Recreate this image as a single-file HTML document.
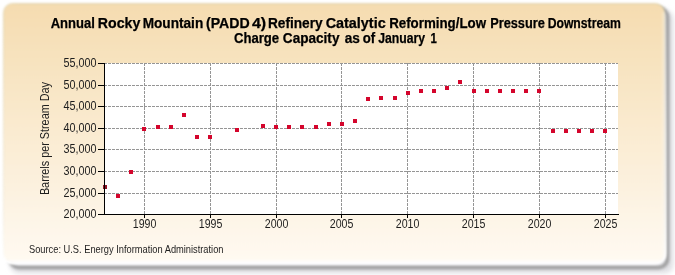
<!DOCTYPE html>
<html><head><meta charset="utf-8"><style>
html,body{margin:0;padding:0;background:#fff;width:675px;height:275px;overflow:hidden}
svg{display:block;will-change:transform}
.t{font-family:"Liberation Sans",sans-serif;font-size:12.3px;fill:#1e1e1e}
.ti{font-family:"Liberation Sans",sans-serif;font-size:14px;font-weight:bold;fill:#000;stroke:#000;stroke-width:0.25px}
.s{font-family:"Liberation Sans",sans-serif;font-size:10.3px;fill:#1e1e1e}
</style></head><body>
<svg width="675" height="275" viewBox="0 0 675 275">
<defs>
<linearGradient id="bg" x1="0" y1="0" x2="0" y2="1">
<stop offset="0" stop-color="#f5dcb0"/>
<stop offset="1" stop-color="#fffaf2"/>
</linearGradient>
<linearGradient id="bd" x1="0" y1="0" x2="0" y2="1">
<stop offset="0" stop-color="#c8c090" stop-opacity="0.5"/>
<stop offset="0.6" stop-color="#d0c8a8" stop-opacity="0.3"/>
<stop offset="1" stop-color="#ffffff" stop-opacity="0.8"/>
</linearGradient>
<filter id="sh" x="-5%" y="-5%" width="110%" height="115%"><feGaussianBlur stdDeviation="1.8"/></filter>
<linearGradient id="glow" x1="0" y1="0" x2="0" y2="1">
<stop offset="0" stop-color="#fff" stop-opacity="0"/>
<stop offset="0.5" stop-color="#fff" stop-opacity="0.6"/>
<stop offset="1" stop-color="#fff" stop-opacity="1"/>
</linearGradient>
<filter id="gl" x="-2%" y="-2%" width="104%" height="104%"><feGaussianBlur stdDeviation="1.2"/></filter>
<filter id="sh2" x="-5%" y="-5%" width="110%" height="115%"><feGaussianBlur stdDeviation="2.5"/></filter>
<filter id="bl" x="-2%" y="-2%" width="104%" height="104%"><feGaussianBlur stdDeviation="1.0"/></filter>
</defs>
<rect x="10" y="10" width="663.5" height="263.5" rx="9" fill="#e0e0e4" filter="url(#sh2)"/>
<rect x="10" y="8" width="657.5" height="259.5" rx="9" fill="none" stroke="#999999" stroke-width="3.5" filter="url(#sh)"/>
<rect x="3.5" y="3.5" width="661" height="259" rx="9" fill="none" stroke="url(#glow)" stroke-width="4" filter="url(#gl)"/>
<g filter="url(#bl)">
<rect x="3.5" y="3.5" width="661" height="259" rx="9" fill="url(#bg)" stroke="url(#bd)" stroke-width="1"/>
<rect x="8" y="260" width="652" height="2.5" fill="#fff" opacity="0.6"/>
<rect x="662.5" y="12" width="2" height="246" fill="#fff" opacity="0.36"/>
</g>
<text x="50.70" y="27.8" class="ti" textLength="44.12" lengthAdjust="spacingAndGlyphs">Annual</text>
<text x="97.79" y="27.8" class="ti" textLength="42.54" lengthAdjust="spacingAndGlyphs">Rocky</text>
<text x="142.63" y="27.8" class="ti" textLength="60.59" lengthAdjust="spacingAndGlyphs">Mountain</text>
<text x="205.99" y="27.8" class="ti" textLength="43.71" lengthAdjust="spacingAndGlyphs">(PADD</text>
<text x="251.90" y="27.8" class="ti" textLength="14.22" lengthAdjust="spacingAndGlyphs">4)</text>
<text x="267.92" y="27.8" class="ti" textLength="54.71" lengthAdjust="spacingAndGlyphs">Refinery</text>
<text x="325.67" y="27.8" class="ti" textLength="60.00" lengthAdjust="spacingAndGlyphs">Catalytic</text>
<text x="389.15" y="27.8" class="ti" textLength="96.95" lengthAdjust="spacingAndGlyphs">Reforming/Low</text>
<text x="490.19" y="27.8" class="ti" textLength="54.65" lengthAdjust="spacingAndGlyphs">Pressure</text>
<text x="547.63" y="27.8" class="ti" textLength="73.17" lengthAdjust="spacingAndGlyphs">Downstream</text>
<text x="233.96" y="42.8" class="ti" textLength="45.16" lengthAdjust="spacingAndGlyphs">Charge</text>
<text x="282.83" y="42.8" class="ti" textLength="56.62" lengthAdjust="spacingAndGlyphs">Capacity</text>
<text x="344.80" y="42.8" class="ti" textLength="15.16" lengthAdjust="spacingAndGlyphs">as</text>
<text x="362.70" y="42.8" class="ti" textLength="12.41" lengthAdjust="spacingAndGlyphs">of</text>
<text x="378.20" y="42.8" class="ti" textLength="46.94" lengthAdjust="spacingAndGlyphs">January</text>
<text x="430.39" y="42.8" class="ti" textLength="6.35" lengthAdjust="spacingAndGlyphs">1</text>
<text transform="translate(48.8,138.6) rotate(-90)" text-anchor="middle" class="t" font-size="11.8" textLength="113" lengthAdjust="spacingAndGlyphs">Barrels per Stream Day</text>
<text x="29" y="253" class="s" textLength="194.5" lengthAdjust="spacingAndGlyphs">Source: U.S. Energy Information Administration</text>
<rect x="104" y="63" width="514" height="151" fill="#fff"/>
<line x1="104" y1="193.5" x2="618" y2="193.5" stroke="#959595" stroke-dasharray="3,1"/>
<line x1="104" y1="171.5" x2="618" y2="171.5" stroke="#959595" stroke-dasharray="3,1"/>
<line x1="104" y1="149.5" x2="618" y2="149.5" stroke="#959595" stroke-dasharray="3,1"/>
<line x1="104" y1="128.5" x2="618" y2="128.5" stroke="#959595" stroke-dasharray="3,1"/>
<line x1="104" y1="106.5" x2="618" y2="106.5" stroke="#959595" stroke-dasharray="3,1"/>
<line x1="104" y1="85.5" x2="618" y2="85.5" stroke="#959595" stroke-dasharray="3,1"/>
<line x1="104" y1="63.5" x2="618" y2="63.5" stroke="#959595" stroke-dasharray="3,1"/>
<line x1="144.5" y1="63" x2="144.5" y2="214" stroke="#959595" stroke-dasharray="3,1"/>
<line x1="210.5" y1="63" x2="210.5" y2="214" stroke="#959595" stroke-dasharray="3,1"/>
<line x1="276.5" y1="63" x2="276.5" y2="214" stroke="#959595" stroke-dasharray="3,1"/>
<line x1="341.5" y1="63" x2="341.5" y2="214" stroke="#959595" stroke-dasharray="3,1"/>
<line x1="407.5" y1="63" x2="407.5" y2="214" stroke="#959595" stroke-dasharray="3,1"/>
<line x1="473.5" y1="63" x2="473.5" y2="214" stroke="#959595" stroke-dasharray="3,1"/>
<line x1="539.5" y1="63" x2="539.5" y2="214" stroke="#959595" stroke-dasharray="3,1"/>
<line x1="605.5" y1="63" x2="605.5" y2="214" stroke="#959595" stroke-dasharray="3,1"/>
<line x1="98" y1="214.5" x2="104" y2="214.5" stroke="#000"/>
<text x="96.6" y="218.1" text-anchor="end" class="t" textLength="33" lengthAdjust="spacingAndGlyphs">20,000</text>
<line x1="98" y1="193.5" x2="104" y2="193.5" stroke="#000"/>
<text x="96.6" y="197.1" text-anchor="end" class="t" textLength="33" lengthAdjust="spacingAndGlyphs">25,000</text>
<line x1="98" y1="171.5" x2="104" y2="171.5" stroke="#000"/>
<text x="96.6" y="175.1" text-anchor="end" class="t" textLength="33" lengthAdjust="spacingAndGlyphs">30,000</text>
<line x1="98" y1="149.5" x2="104" y2="149.5" stroke="#000"/>
<text x="96.6" y="153.1" text-anchor="end" class="t" textLength="33" lengthAdjust="spacingAndGlyphs">35,000</text>
<line x1="98" y1="128.5" x2="104" y2="128.5" stroke="#000"/>
<text x="96.6" y="132.1" text-anchor="end" class="t" textLength="33" lengthAdjust="spacingAndGlyphs">40,000</text>
<line x1="98" y1="106.5" x2="104" y2="106.5" stroke="#000"/>
<text x="96.6" y="110.1" text-anchor="end" class="t" textLength="33" lengthAdjust="spacingAndGlyphs">45,000</text>
<line x1="98" y1="85.5" x2="104" y2="85.5" stroke="#000"/>
<text x="96.6" y="89.1" text-anchor="end" class="t" textLength="33" lengthAdjust="spacingAndGlyphs">50,000</text>
<line x1="98" y1="63.5" x2="104" y2="63.5" stroke="#000"/>
<text x="96.6" y="67.1" text-anchor="end" class="t" textLength="33" lengthAdjust="spacingAndGlyphs">55,000</text>
<line x1="144.5" y1="214" x2="144.5" y2="218" stroke="#000"/>
<text x="144.55" y="227.8" text-anchor="middle" class="t" textLength="23.6" lengthAdjust="spacingAndGlyphs">1990</text>
<line x1="210.5" y1="214" x2="210.5" y2="218" stroke="#000"/>
<text x="210.55" y="227.8" text-anchor="middle" class="t" textLength="23.6" lengthAdjust="spacingAndGlyphs">1995</text>
<line x1="276.5" y1="214" x2="276.5" y2="218" stroke="#000"/>
<text x="276.55" y="227.8" text-anchor="middle" class="t" textLength="23.6" lengthAdjust="spacingAndGlyphs">2000</text>
<line x1="341.5" y1="214" x2="341.5" y2="218" stroke="#000"/>
<text x="341.55" y="227.8" text-anchor="middle" class="t" textLength="23.6" lengthAdjust="spacingAndGlyphs">2005</text>
<line x1="407.5" y1="214" x2="407.5" y2="218" stroke="#000"/>
<text x="407.55" y="227.8" text-anchor="middle" class="t" textLength="23.6" lengthAdjust="spacingAndGlyphs">2010</text>
<line x1="473.5" y1="214" x2="473.5" y2="218" stroke="#000"/>
<text x="473.55" y="227.8" text-anchor="middle" class="t" textLength="23.6" lengthAdjust="spacingAndGlyphs">2015</text>
<line x1="539.5" y1="214" x2="539.5" y2="218" stroke="#000"/>
<text x="539.55" y="227.8" text-anchor="middle" class="t" textLength="23.6" lengthAdjust="spacingAndGlyphs">2020</text>
<line x1="605.5" y1="214" x2="605.5" y2="218" stroke="#000"/>
<text x="605.55" y="227.8" text-anchor="middle" class="t" textLength="23.6" lengthAdjust="spacingAndGlyphs">2025</text>
<rect x="103" y="185" width="4" height="4" fill="#8e1424"/>
<rect x="116" y="194" width="4" height="4" fill="#d4052c"/>
<rect x="129" y="170" width="4" height="4" fill="#d4052c"/>
<rect x="142" y="127" width="4" height="4" fill="#d4052c"/>
<rect x="156" y="125" width="4" height="4" fill="#d4052c"/>
<rect x="169" y="125" width="4" height="4" fill="#d4052c"/>
<rect x="182" y="113" width="4" height="4" fill="#d4052c"/>
<rect x="195" y="135" width="4" height="4" fill="#d4052c"/>
<rect x="208" y="135" width="4" height="4" fill="#d4052c"/>
<rect x="235" y="128" width="4" height="4" fill="#d4052c"/>
<rect x="261" y="124" width="4" height="4" fill="#d4052c"/>
<rect x="274" y="125" width="4" height="4" fill="#d4052c"/>
<rect x="287" y="125" width="4" height="4" fill="#d4052c"/>
<rect x="300" y="125" width="4" height="4" fill="#d4052c"/>
<rect x="314" y="125" width="4" height="4" fill="#d4052c"/>
<rect x="327" y="122" width="4" height="4" fill="#d4052c"/>
<rect x="340" y="122" width="4" height="4" fill="#d4052c"/>
<rect x="353" y="119" width="4" height="4" fill="#d4052c"/>
<rect x="366" y="97" width="4" height="4" fill="#d4052c"/>
<rect x="379" y="96" width="4" height="4" fill="#d4052c"/>
<rect x="393" y="96" width="4" height="4" fill="#d4052c"/>
<rect x="406" y="91" width="4" height="4" fill="#d4052c"/>
<rect x="419" y="89" width="4" height="4" fill="#d4052c"/>
<rect x="432" y="89" width="4" height="4" fill="#d4052c"/>
<rect x="445" y="86" width="4" height="4" fill="#d4052c"/>
<rect x="458" y="80" width="4" height="4" fill="#d4052c"/>
<rect x="472" y="89" width="4" height="4" fill="#d4052c"/>
<rect x="485" y="89" width="4" height="4" fill="#d4052c"/>
<rect x="498" y="89" width="4" height="4" fill="#d4052c"/>
<rect x="511" y="89" width="4" height="4" fill="#d4052c"/>
<rect x="524" y="89" width="4" height="4" fill="#d4052c"/>
<rect x="537" y="89" width="4" height="4" fill="#d4052c"/>
<rect x="551" y="129" width="4" height="4" fill="#d4052c"/>
<rect x="564" y="129" width="4" height="4" fill="#d4052c"/>
<rect x="577" y="129" width="4" height="4" fill="#d4052c"/>
<rect x="590" y="129" width="4" height="4" fill="#d4052c"/>
<rect x="603" y="129" width="4" height="4" fill="#d4052c"/>
<line x1="104.5" y1="63" x2="104.5" y2="215" stroke="#000"/>
<line x1="104" y1="214.5" x2="619" y2="214.5" stroke="#000"/>
</svg>
</body></html>
